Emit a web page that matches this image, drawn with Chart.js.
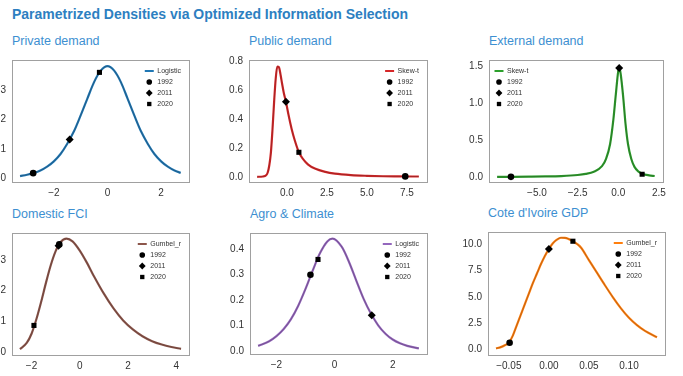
<!DOCTYPE html>
<html>
<head>
<meta charset="utf-8">
<script src="https://cdn.jsdelivr.net/npm/chart.js@4.4.1/dist/chart.umd.min.js"></script>
<style>
  body { margin: 0; background: #fff; width: 683px; height: 376px; overflow: hidden; position: relative;
         font-family: "Liberation Sans", Arial, sans-serif; }
  #title { position: absolute; left: 12px; top: 6px; font-size: 14px; line-height: 17px; font-weight: bold; color: #2d7fc1; }
  .sub { position: absolute; font-size: 12.5px; line-height: 14px; color: #3d8fd1; white-space: nowrap; }
  canvas { position: absolute; }
</style>
</head>
<body>
<div id="title">Parametrized Densities via Optimized Information Selection</div>

<script>
const years = ['1992', '2011', '2020'];

// Private demand (Logistic)
const privateX = [-3.26, -3.0, -2.75, -2.5, -2.25, -2.0, -1.75, -1.5, -1.25, -1.0, -0.75, -0.5, -0.25, 0, 0.25, 0.5, 0.75, 1.0, 1.25, 1.5, 1.75, 2.0, 2.25, 2.5, 2.73];
const privateY = [0.08, 0.125, 0.185, 0.27, 0.40, 0.58, 0.83, 1.18, 1.60, 2.14, 2.71, 3.27, 3.66, 3.81, 3.66, 3.27, 2.71, 2.14, 1.60, 1.18, 0.83, 0.58, 0.40, 0.27, 0.19];
const privateMarks = [[-2.77, 0.18], [-1.41, 1.32], [-0.3, 3.6]];
const privateXTicks = [-2, 0, 2];
const privateYTicks = [0, 1, 2, 3];

// Public demand (Skew-t)
const publicX = [-1.86, -1.5, -1.3, -1.2, -1.1, -1.0, -0.9, -0.8, -0.7, -0.6, -0.5, -0.4, -0.3, -0.2, -0.06, 0.1, 0.3, 0.5, 0.75, 1.0, 1.33, 1.75, 2.4, 3.0, 4.0, 5.0, 6.0, 7.0, 8.25];
const publicY = [0.0, 0.002, 0.01, 0.03, 0.08, 0.17, 0.33, 0.52, 0.68, 0.765, 0.76, 0.71, 0.645, 0.585, 0.52, 0.43, 0.33, 0.25, 0.17, 0.125, 0.085, 0.057, 0.034, 0.022, 0.012, 0.007, 0.004, 0.003, 0.002];
const publicMarks = [[7.4, 0.003], [-0.06, 0.52], [0.75, 0.17]];
const publicXTicks = [0, 2.5, 5, 7.5];
const publicYTicks = [0, 0.2, 0.4, 0.6, 0.8];

// External demand (Skew-t)
const externalX = [-7.45, -6.5, -5.5, -4.5, -3.5, -2.5, -2.0, -1.5, -1.0, -0.75, -0.5, -0.3, -0.15, 0.0, 0.06, 0.15, 0.3, 0.45, 0.6, 0.8, 1.0, 1.25, 1.5, 1.9, 2.24];
const externalY = [0.004, 0.005, 0.007, 0.01, 0.016, 0.03, 0.045, 0.075, 0.15, 0.25, 0.45, 0.78, 1.12, 1.44, 1.49, 1.40, 1.1, 0.72, 0.45, 0.25, 0.14, 0.075, 0.045, 0.025, 0.016];
const externalMarks = [[-6.6, 0.005], [0.06, 1.48], [1.47, 0.04]];
const externalXTicks = [-5, -2.5, 0, 2.5];
const externalYTicks = [0, 0.5, 1.0, 1.5];

// Domestic FCI (Gumbel_r)
const fciX = [-2.48, -2.2, -2.0, -1.8, -1.6, -1.4, -1.2, -1.0, -0.8, -0.55, -0.3, 0.0, 0.3, 0.6, 1.0, 1.4, 1.8, 2.2, 2.6, 3.0, 3.4, 3.8, 4.2];
const fciY = [0.1, 0.3, 0.6, 1.07, 1.64, 2.26, 2.83, 3.28, 3.57, 3.69, 3.6, 3.3, 2.9, 2.45, 1.9, 1.42, 1.03, 0.74, 0.52, 0.36, 0.25, 0.17, 0.11];
const fciMarks = [[-0.85, 3.5], [-0.88, 3.46], [-1.9, 0.87]];
const fciXTicks = [-2, 0, 2, 4];
const fciYTicks = [0, 1, 2, 3];

// Agro & Climate (Logistic)
const agroX = [-2.63, -2.25, -2.0, -1.75, -1.5, -1.25, -1.0, -0.75, -0.5, -0.25, -0.07, 0.25, 0.5, 0.75, 1.0, 1.25, 1.5, 1.75, 2.0, 2.25, 2.5, 2.9];
const agroY = [0.02, 0.038, 0.058, 0.086, 0.125, 0.178, 0.244, 0.317, 0.385, 0.431, 0.442, 0.409, 0.349, 0.276, 0.205, 0.147, 0.101, 0.068, 0.045, 0.03, 0.02, 0.01];
const agroMarks = [[-0.83, 0.3], [1.28, 0.14], [-0.57, 0.36]];
const agroXTicks = [-2, 0, 2];
const agroYTicks = [0, 0.1, 0.2, 0.3, 0.4];

// Cote d'Ivoire GDP (Gumbel_r)
const gdpX = [-0.066, -0.06, -0.055, -0.05, -0.045, -0.04, -0.035, -0.03, -0.025, -0.02, -0.015, -0.01, -0.005, 0.0, 0.005, 0.01, 0.015, 0.02, 0.025, 0.03, 0.035, 0.04, 0.05, 0.06, 0.07, 0.08, 0.09, 0.1, 0.11, 0.12, 0.135];
const gdpY = [0.08, 0.2, 0.38, 0.62, 1.3, 2.3, 3.3, 4.3, 5.3, 6.3, 7.2, 8.1, 8.9, 9.55, 10.1, 10.45, 10.63, 10.62, 10.5, 10.3, 10.05, 9.7, 8.5, 7.3, 6.1, 4.95, 3.9, 3.0, 2.3, 1.75, 1.15];
const gdpMarks = [[-0.049, 0.62], [0.0, 9.55], [0.03, 10.3]];
const gdpXTicks = [-0.05, 0, 0.05, 0.10];
const gdpYTicks = [0, 2.5, 5, 7.5, 10];

const markStyles = ['circle', 'rectRot', 'rect'];
const markSizes = [3.3, 4.0, 3.6];

const panels = [
  {title: 'Private demand', dist: 'Logistic', color: '#1f77b4', xs: privateX, ys: privateY, marks: privateMarks,
   xTicks: privateXTicks, yTicks: privateYTicks, xDec: 0, yDec: 0, xr: [-3.56, 3.04], yr: [-0.12, 4.02], area: [12, 54, 189, 182], side: 'right'},
  {title: 'Public demand', dist: 'Skew-t', color: '#d62728', xs: publicX, ys: publicY, marks: publicMarks,
   xTicks: publicXTicks, yTicks: publicYTicks, xDec: 1, yDec: 1, xr: [-2.37, 8.76], yr: [-0.036, 0.81], area: [249, 54, 427, 182], side: 'right'},
  {title: 'External demand', dist: 'Skew-t', color: '#2ca02c', xs: externalX, ys: externalY, marks: externalMarks,
   xTicks: externalXTicks, yTicks: externalYTicks, xDec: 1, yDec: 1, xr: [-7.95, 2.73], yr: [-0.065, 1.59], area: [489, 54, 663, 182], side: 'left'},
  {title: 'Domestic FCI', dist: 'Gumbel_r', color: '#8c564b', xs: fciX, ys: fciY, marks: fciMarks,
   xTicks: fciXTicks, yTicks: fciYTicks, xDec: 0, yDec: 0, xr: [-2.81, 4.53], yr: [-0.09, 3.87], area: [12, 227, 189, 355], side: 'right'},
  {title: 'Agro & Climate', dist: 'Logistic', color: '#9467bd', xs: agroX, ys: agroY, marks: agroMarks,
   xTicks: agroXTicks, yTicks: agroYTicks, xDec: 0, yDec: 1, xr: [-2.91, 3.18], yr: [-0.012, 0.464], area: [250, 227, 427, 354], side: 'right'},
  {title: "Cote d'Ivoire GDP", dist: 'Gumbel_r', color: '#ff7f0e', xs: gdpX, ys: gdpY, marks: gdpMarks,
   xTicks: gdpXTicks, yTicks: gdpYTicks, xDec: 2, yDec: 1, xr: [-0.076, 0.145], yr: [-0.55, 11.18], area: [488, 226, 665, 355], side: 'right'}
];

function fmt(v, d) {
  const s = Math.abs(v).toFixed(d);
  return (v < 0 && Number(s) !== 0 ? '\u2212' : '') + s;
}

// box round the plot area
const frame = {
  id: 'frame',
  afterDraw(chart) {
    const {ctx, chartArea: a} = chart;
    ctx.save();
    ctx.strokeStyle = '#a0a0a0';
    ctx.lineWidth = 1;
    ctx.strokeRect(Math.round(a.left) + 0.5, Math.round(a.top) + 0.5, Math.round(a.right - a.left), Math.round(a.bottom - a.top));
    ctx.restore();
  }
};

// small legend inside the plot area
const insideLegend = {
  id: 'insideLegend',
  afterDraw(chart, args, opts) {
    const {ctx, chartArea: a} = chart;
    ctx.save();
    ctx.font = '7px "Liberation Sans", Arial, sans-serif';
    const labels = [opts.name].concat(years);
    const tw = Math.max(...labels.map(s => ctx.measureText(s).width));
    const mx = opts.side === 'left' ? a.left + 10 : a.right - 9 - tw - 7;
    let y = a.top + 11;
    ctx.strokeStyle = opts.color;
    ctx.lineWidth = 2;
    ctx.beginPath(); ctx.moveTo(mx - 4.5, y); ctx.lineTo(mx + 4.5, y); ctx.stroke();
    ctx.fillStyle = '#333';
    ctx.textBaseline = 'middle';
    ctx.fillText(opts.name, mx + 8, y);
    years.forEach((yr, i) => {
      y += 11;
      ctx.fillStyle = '#000';
      Chart.helpers.drawPoint(ctx, {pointStyle: markStyles[i], radius: markSizes[i] * 0.85, borderWidth: 0, rotation: 0}, mx, y);
      ctx.fillStyle = '#333';
      ctx.fillText(yr, mx + 8, y);
    });
    ctx.restore();
  }
};

panels.forEach(p => {
  const [l, t, r, b] = p.area;
  const padL = 42, padT = 6, padR = 8, padB = 22;
  const sub = document.createElement('div');
  sub.className = 'sub';
  sub.textContent = p.title;
  sub.style.left = l + 'px';
  sub.style.top = (t - 20) + 'px';
  document.body.appendChild(sub);

  const cv = document.createElement('canvas');
  cv.width = r - l + padL + padR;
  cv.height = b - t + padT + padB;
  cv.style.left = (l - padL) + 'px';
  cv.style.top = (t - padT) + 'px';
  document.body.appendChild(cv);

  const line = p.xs.map((x, i) => ({x: x, y: p.ys[i]}));
  const datasets = [
    {data: line, showLine: true, borderColor: p.color, borderWidth: 2.2, pointRadius: 0, cubicInterpolationMode: 'monotone', order: 3},
    {data: line, showLine: true, borderColor: 'rgba(40,30,30,0.35)', borderWidth: 0.8, pointRadius: 0, cubicInterpolationMode: 'monotone', order: 2}
  ];
  p.marks.forEach((m, i) => {
    datasets.push({data: [{x: m[0], y: m[1]}], pointStyle: markStyles[i], pointRadius: markSizes[i],
      backgroundColor: '#000', borderColor: '#000', borderWidth: 0, order: 1});
  });

  new Chart(cv.getContext('2d'), {
    type: 'scatter',
    data: {datasets: datasets},
    plugins: [frame, insideLegend],
    options: {
      responsive: false,
      animation: false,
      layout: {padding: {left: 0, top: padT, right: padR, bottom: 0}},
      plugins: {
        legend: {display: false},
        tooltip: {enabled: false},
        insideLegend: {name: p.dist, color: p.color, side: p.side}
      },
      scales: {
        x: {
          type: 'linear', min: p.xr[0], max: p.xr[1],
          grid: {display: false, drawTicks: false}, border: {display: false},
          afterBuildTicks: s => { s.ticks = p.xTicks.map(v => ({value: v})); },
          afterFit: s => { s.height = padB; },
          ticks: {color: '#333', padding: 5, maxRotation: 0, font: {size: 10, family: '"Liberation Sans", Arial, sans-serif'},
                  callback: v => fmt(v, p.xDec)}
        },
        y: {
          type: 'linear', min: p.yr[0], max: p.yr[1],
          grid: {display: false, drawTicks: false}, border: {display: false},
          afterBuildTicks: s => { s.ticks = p.yTicks.map(v => ({value: v})); },
          afterFit: s => { s.width = padL; },
          ticks: {color: '#333', padding: 6, font: {size: 10, family: '"Liberation Sans", Arial, sans-serif'},
                  callback: v => fmt(v, p.yDec)}
        }
      }
    }
  });
});
</script>
</body>
</html>
